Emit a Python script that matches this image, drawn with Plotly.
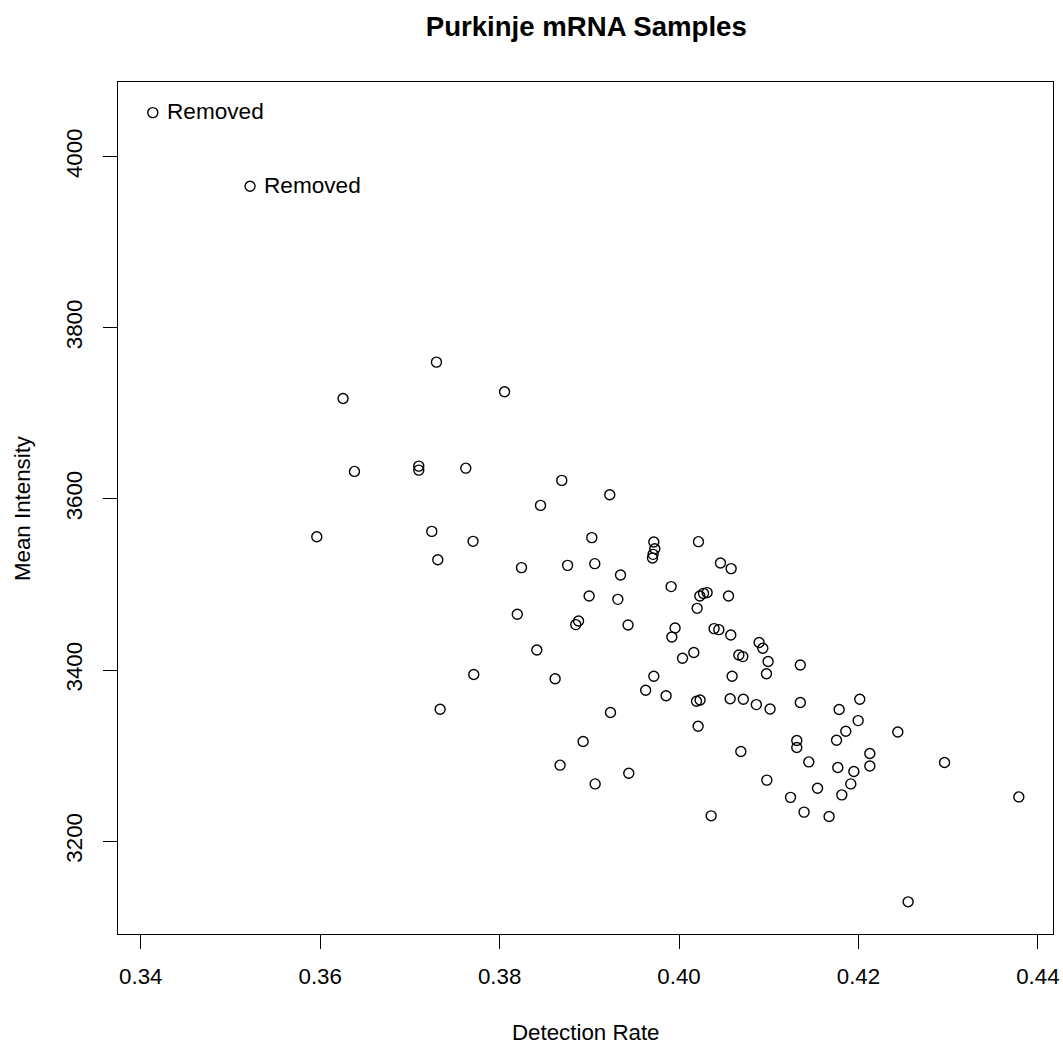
import plotly.graph_objects as go

title_text = "Purkinje mRNA Samples"
x_label = "Detection Rate"
y_label = "Mean Intensity"

detection_rate = [
    0.34134, 0.35218, 0.37296, 0.36255, 0.38055, 0.36382, 0.37099, 0.37099, 0.37623, 0.38693,
    0.39228, 0.38456, 0.35962, 0.37244, 0.37704, 0.39028, 0.37311, 0.38244, 0.38758, 0.39061,
    0.39348, 0.39719, 0.39730, 0.39711, 0.39704, 0.40217, 0.40462, 0.40581, 0.39912, 0.38998,
    0.39318, 0.40273, 0.40313, 0.40232, 0.40552, 0.40202, 0.38197, 0.38880, 0.38849, 0.39432,
    0.39956, 0.39920, 0.40391, 0.40444, 0.40577, 0.38415, 0.40039, 0.40165, 0.40893, 0.40934,
    0.40667, 0.40711, 0.40993, 0.41352, 0.38619, 0.39719, 0.40592, 0.40975, 0.39628, 0.39856,
    0.40195, 0.40235, 0.40570, 0.40717, 0.40862, 0.41015, 0.41352, 0.39236, 0.37712, 0.37337,
    0.40213, 0.38931, 0.40689, 0.41313, 0.41313, 0.38674, 0.39440, 0.39065, 0.40979, 0.41243,
    0.40358, 0.42015, 0.41785, 0.41997, 0.41859, 0.41756, 0.42439, 0.41447, 0.42127, 0.42127,
    0.42960, 0.41770, 0.41949, 0.41915, 0.41544, 0.41815, 0.43788, 0.41394, 0.41673, 0.42554,
]

mean_intensity = [
    4051.4, 3965.3, 3759.8, 3717.4, 3725.2, 3632.1, 3638.3, 3633.6, 3635.9, 3621.6,
    3604.9, 3592.4, 3555.8, 3562.0, 3550.4, 3554.7, 3528.8, 3519.7, 3522.3, 3524.3,
    3511.0, 3549.6, 3541.8, 3535.2, 3530.9, 3550.0, 3525.0, 3518.5, 3497.5, 3486.5,
    3482.6, 3489.6, 3490.5, 3486.5, 3486.5, 3472.1, 3465.1, 3457.3, 3453.1, 3452.6,
    3449.1, 3438.6, 3448.4, 3447.2, 3440.9, 3423.4, 3413.7, 3420.4, 3432.1, 3425.4,
    3417.6, 3415.7, 3409.9, 3405.8, 3389.8, 3392.7, 3392.7, 3395.6, 3376.4, 3369.9,
    3363.5, 3365.0, 3366.4, 3365.8, 3359.6, 3354.4, 3362.0, 3350.3, 3394.7, 3354.2,
    3334.3, 3316.4, 3304.8, 3317.7, 3309.5, 3288.8, 3279.4, 3266.9, 3271.3, 3251.2,
    3229.6, 3365.8, 3353.8, 3340.9, 3328.5, 3317.9, 3327.6, 3292.6, 3302.4, 3287.9,
    3291.9, 3286.1, 3281.4, 3266.9, 3261.9, 3254.1, 3251.7, 3233.9, 3228.9, 3129.1,
]

removed_labels = ["Removed", "Removed"]
removed_index = [0, 1]

x_tick_vals = [0.34, 0.36, 0.38, 0.40, 0.42, 0.44]
x_tick_text = ["0.34", "0.36", "0.38", "0.40", "0.42", "0.44"]
y_tick_vals = [3200, 3400, 3600, 3800, 4000]
y_tick_text = ["3200", "3400", "3600", "3800", "4000"]

FONT = "Liberation Sans, Arial, Helvetica, sans-serif"

fig = go.Figure()
fig.add_trace(go.Scatter(
    x=detection_rate, y=mean_intensity, mode="markers",
    marker=dict(symbol="circle-open", size=10, color="black",
                line=dict(color="black", width=1.4)),
    showlegend=False, hoverinfo="x+y",
))

annotations = []
for i, lab in zip(removed_index, removed_labels):
    annotations.append(dict(
        x=detection_rate[i], y=mean_intensity[i], xref="x", yref="y",
        text=lab, showarrow=False, xanchor="left", yanchor="middle",
        xshift=12, yshift=1, font=dict(family=FONT, size=22.6, color="black"),
    ))

annotations.append(dict(
    x=0.5, y=0, xref="paper", yref="paper", text=x_label, showarrow=False,
    xanchor="center", yanchor="middle", yshift=-98,
    font=dict(family=FONT, size=22.3, color="black"),
))
annotations.append(dict(
    x=0, y=0.5, xref="paper", yref="paper", text=y_label, showarrow=False,
    xanchor="center", yanchor="middle", xshift=-96, textangle=-90,
    font=dict(family=FONT, size=22.3, color="black"),
))

axis_common = dict(
    showgrid=False, zeroline=False, showline=True, mirror=True,
    linecolor="black", linewidth=1.2, ticks="outside", ticklen=14,
    tickwidth=1.2, tickcolor="black",
    tickfont=dict(family=FONT, size=22.3, color="black"),
)

fig.update_layout(
    width=1063, height=1044,
    margin=dict(l=118, r=10, t=82, b=110, autoexpand=False),
    paper_bgcolor="white", plot_bgcolor="white",
    title=dict(text="<b>" + title_text + "</b>", x=0.5515, xanchor="center",
               y=1 - 26 / 1044, yanchor="middle", yref="container",
               font=dict(family=FONT, size=27.6, color="black")),
    xaxis=dict(range=[0.33746, 0.44169], tickvals=x_tick_vals, ticktext=x_tick_text,
               ticklabelstandoff=8, **axis_common),
    yaxis=dict(range=[3091.5, 4087.2], tickvals=y_tick_vals, ticktext=y_tick_text,
               tickangle=-90, ticklabelstandoff=12, **axis_common),
    annotations=annotations,
)

fig.write_html("out.html")
